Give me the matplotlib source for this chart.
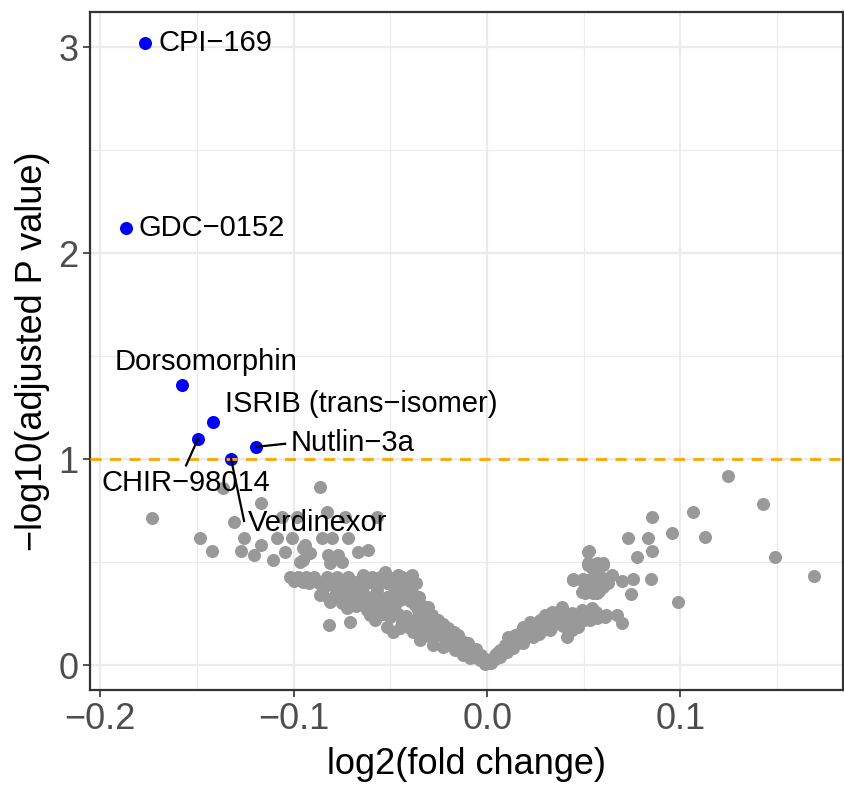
import numpy as np
import matplotlib
matplotlib.use("Agg")
import matplotlib.pyplot as plt

plt.rcParams['font.family'] = ['Liberation Sans', 'DejaVu Sans']

# --- significant hits (blue) ---
hit_names = ['CPI\u2212169', 'GDC\u22120152', 'Dorsomorphin', 'ISRIB (trans\u2212isomer)',
             'CHIR\u221298014', 'Nutlin\u22123a', 'Verdinexor']
hit_x = [-0.177, -0.187, -0.158, -0.142, -0.1495, -0.1195, -0.1324]
hit_y = [3.02, 2.12, 1.36, 1.18, 1.10, 1.06, 1.00]

# --- all other compounds (grey) ---
gray_x = [
    # left outliers
    -0.1733, -0.1485, -0.1423, -0.1366, -0.1309, -0.1273, -0.1257, -0.1205, -0.1169, -0.1169,
    -0.1086, -0.1107, -0.1045, -0.1009, -0.1061, -0.0983, -0.0952, -0.0864, -0.0828, -0.0735,
    -0.0569, -0.0942, -0.0916, -0.0854, -0.0802, -0.0719, -0.0823, -0.0771, -0.0667, -0.0616,
    -0.0952, -0.0812, -0.0967, -0.0750,
    # upper row of left cloud
    -0.1019, -0.0978, -0.0936, -0.0895, -0.0828, -0.0776, -0.0719, -0.0641, -0.0595, -0.0554,
    -0.0486, -0.0440, -0.0388,
    -0.1000, -0.0950, -0.0910, -0.0870, -0.0840, -0.0800, -0.0750, -0.0700, -0.0670, -0.0620,
    -0.0570, -0.0520, -0.0460, -0.0420,
    # left dense band
    -0.0864, -0.0797, -0.0812, -0.0735, -0.0683, -0.0657, -0.0621, -0.0569, -0.0517, -0.0450,
    -0.0491, -0.0424, -0.0388, -0.0709, -0.0760, -0.0724, -0.0621, -0.0605, -0.0554, -0.0502,
    -0.0414, -0.0435, -0.0372, -0.0305, -0.0347, -0.0253, -0.0476, -0.0528, -0.0321, -0.0285,
    -0.0517, -0.0486, -0.0383, -0.0310, -0.0347, -0.0279, -0.0228, -0.0207, -0.0150, -0.0243,
    -0.0181, -0.0450, -0.0398, -0.0166, -0.0124, -0.0103, -0.0072, -0.0036, 0.0000, -0.0088,
    -0.0057, -0.0021, -0.0140, -0.0191, -0.0109, -0.0047, 0.0021, -0.0010, -0.0817, -0.0709,
    -0.0528, -0.0460, -0.0409, -0.0476,
    -0.0850, -0.0780, -0.0720, -0.0660, -0.0600, -0.0580, -0.0540, -0.0480, -0.0440, -0.0400,
    -0.0360, -0.0330, -0.0300, -0.0270, -0.0230, -0.0200, -0.0170, -0.0130, -0.0100, -0.0080,
    -0.0060, -0.0030, -0.0010, -0.0680, -0.0640, -0.0560, -0.0500, -0.0460, -0.0420, -0.0380,
    -0.0340, -0.0310, -0.0260, -0.0220, -0.0190, -0.0160, -0.0120, -0.0300, -0.0350, -0.0400,
    -0.0440, -0.0540, -0.0580, -0.0620, -0.0750, -0.0700, -0.0820, -0.0920, -0.0760, -0.0450,
    -0.0370, -0.0400, -0.0350,
    # right arm
    0.0031, 0.0052, 0.0083, 0.0109, 0.0135, 0.0155, 0.0186, 0.0186, 0.0238, 0.0259,
    0.0290, 0.0326, 0.0336, 0.0352, 0.0378, 0.0388, 0.0414, 0.0440, 0.0471, 0.0491,
    0.0533, 0.0491, 0.0548, 0.0610, 0.0445, 0.0517, 0.0585, 0.0523, 0.0569, 0.0600,
    0.0523, 0.0041, 0.0067, 0.0093, 0.0119, 0.0145, 0.0171, 0.0212, 0.0222, 0.0274,
    0.0300, 0.0316, 0.0367, 0.0404, 0.0429, 0.0455, 0.0507, 0.0543, 0.0564, 0.0067,
    0.0103, 0.0197, 0.0248,
    0.0010, 0.0040, 0.0060, 0.0080, 0.0100, 0.0120, 0.0140, 0.0160, 0.0180, 0.0200,
    0.0220, 0.0240, 0.0260, 0.0280, 0.0300, 0.0320, 0.0340, 0.0360, 0.0380, 0.0400,
    0.0420, 0.0460, 0.0480, 0.0500, 0.0520, 0.0570, 0.0140, 0.0200, 0.0270, 0.0330,
    0.0390, 0.0440, 0.0550, 0.0570, 0.0530, 0.0580, 0.0540, 0.0620, 0.0500,
    # right scatter
    0.0616, 0.0673, 0.0698, 0.0445, 0.0497, 0.0548, 0.0600, 0.0647, 0.0698, 0.0755,
    0.0848, 0.0745, 0.0988, 0.0507, 0.0569, 0.0600, 0.0626, 0.0528, 0.0523, 0.0574,
    0.0600, 0.0776, 0.0854, 0.0729, 0.0833, 0.0957, 0.1128, 0.0854, 0.1066, 0.1247,
    0.1428, 0.1490, 0.1692,
]
gray_y = [
    0.714, 0.617, 0.553, 0.859, 0.694, 0.553, 0.617, 0.534, 0.583, 0.786,
    0.617, 0.510, 0.549, 0.617, 0.718, 0.718, 0.568, 0.864, 0.743, 0.718,
    0.718, 0.583, 0.544, 0.617, 0.617, 0.617, 0.534, 0.534, 0.549, 0.558,
    0.510, 0.495, 0.500, 0.500,
    0.427, 0.427, 0.427, 0.427, 0.427, 0.427, 0.427, 0.440, 0.427, 0.427,
    0.422, 0.427, 0.437,
    0.410, 0.405, 0.410, 0.400, 0.405, 0.410, 0.400, 0.410, 0.405, 0.400,
    0.410, 0.400, 0.410, 0.405,
    0.340, 0.388, 0.306, 0.364, 0.340, 0.379, 0.330, 0.364, 0.330, 0.316,
    0.388, 0.374, 0.354, 0.301, 0.325, 0.277, 0.267, 0.243, 0.267, 0.233,
    0.218, 0.204, 0.291, 0.282, 0.233, 0.218, 0.291, 0.301, 0.257, 0.243,
    0.184, 0.160, 0.160, 0.170, 0.121, 0.097, 0.087, 0.160, 0.146, 0.146,
    0.121, 0.180, 0.194, 0.073, 0.049, 0.087, 0.058, 0.024, 0.015, 0.034,
    0.044, 0.019, 0.097, 0.097, 0.063, 0.034, 0.010, 0.005, 0.194, 0.209,
    0.451, 0.437, 0.422, 0.413,
    0.370, 0.350, 0.330, 0.310, 0.300, 0.340, 0.320, 0.350, 0.340, 0.310,
    0.270, 0.290, 0.250, 0.220, 0.200, 0.180, 0.160, 0.120, 0.110, 0.070,
    0.080, 0.050, 0.030, 0.290, 0.350, 0.280, 0.270, 0.250, 0.240, 0.220,
    0.200, 0.190, 0.170, 0.140, 0.110, 0.100, 0.080, 0.140, 0.150, 0.180,
    0.210, 0.250, 0.220, 0.280, 0.300, 0.360, 0.320, 0.400, 0.390, 0.390,
    0.400, 0.350, 0.330,
    0.024, 0.058, 0.073, 0.136, 0.083, 0.121, 0.184, 0.107, 0.136, 0.204,
    0.170, 0.170, 0.257, 0.228, 0.209, 0.282, 0.136, 0.252, 0.184, 0.267,
    0.218, 0.354, 0.350, 0.233, 0.413, 0.413, 0.427, 0.495, 0.495, 0.495,
    0.549, 0.049, 0.039, 0.097, 0.112, 0.146, 0.155, 0.170, 0.209, 0.218,
    0.243, 0.194, 0.257, 0.228, 0.194, 0.218, 0.243, 0.277, 0.257, 0.073,
    0.063, 0.131, 0.180,
    0.020, 0.030, 0.050, 0.060, 0.080, 0.090, 0.100, 0.110, 0.130, 0.140,
    0.150, 0.160, 0.170, 0.190, 0.190, 0.210, 0.200, 0.220, 0.240, 0.210,
    0.230, 0.240, 0.210, 0.220, 0.240, 0.230, 0.130, 0.170, 0.150, 0.180,
    0.190, 0.170, 0.420, 0.400, 0.380, 0.360, 0.470, 0.420, 0.400,
    0.243, 0.243, 0.204, 0.417, 0.417, 0.417, 0.422, 0.437, 0.408, 0.417,
    0.417, 0.345, 0.306, 0.350, 0.350, 0.379, 0.398, 0.553, 0.485, 0.485,
    0.485, 0.524, 0.553, 0.617, 0.617, 0.641, 0.621, 0.718, 0.743, 0.917,
    0.782, 0.524, 0.432,
]

threshold = 1.0

# label placement (text x, text y, ha, segment end or None)
label_pos = [
    (-0.170, 3.02, 'left', None),
    (-0.1805, 2.12, 'left', None),
    (-0.1452, 1.47, 'center', None),
    (-0.1355, 1.27, 'left', None),
    (-0.156, 0.885, 'center', (-0.1557, 0.97)),
    (-0.1015, 1.08, 'left', (-0.1045, 1.075)),
    (-0.1236, 0.69, 'left', (-0.1257, 0.70)),
]

fig = plt.figure(figsize=(8.45, 7.86), dpi=100)
ax = fig.add_axes([0.1065, 0.1221, 0.891, 0.8626])

ax.scatter(gray_x, gray_y, s=88, color='#999999', linewidths=0, zorder=2)
ax.scatter(hit_x, hit_y, s=88, color='#0000FF', linewidths=0, zorder=3)
ax.axhline(threshold, color='#FFA500', linestyle=(0, (4, 3)), linewidth=2, zorder=4)

for name, hx, hy, (tx, ty, ha, seg) in zip(hit_names, hit_x, hit_y, label_pos):
    if seg is not None:
        ax.plot([hx, seg[0]], [hy, seg[1]], color='black', linewidth=1.6, zorder=5)
    ax.text(tx, ty, name, ha=ha, va='center', fontsize=21, color='black', zorder=6)

ax.set_xlim(-0.2054, 0.184)
ax.set_ylim(-0.12, 3.17)
ax.set_xticks([-0.2, -0.1, 0.0, 0.1])
ax.set_xticklabels(['\u22120.2', '\u22120.1', '0.0', '0.1'])
ax.set_yticks([0, 1, 2, 3])
ax.set_xticks([-0.15, -0.05, 0.05, 0.15], minor=True)
ax.set_yticks([0.5, 1.5, 2.5], minor=True)

ax.grid(which='major', color='#EBEBEB', linewidth=1.6, zorder=0)
ax.grid(which='minor', color='#EBEBEB', linewidth=0.8, zorder=0)
ax.set_axisbelow(True)
ax.tick_params(which='major', labelsize=26, labelcolor='#4D4D4D', color='#333333',
               length=5, width=1.2)
ax.tick_params(which='minor', length=0)
for sp in ax.spines.values():
    sp.set_color('#333333')
    sp.set_linewidth(1.6)

ax.set_xlabel('log2(fold change)', fontsize=26, labelpad=7)
ax.set_ylabel('\u2212log10(adjusted P value)', fontsize=26, labelpad=6)

fig.savefig('out.png', dpi=100)
